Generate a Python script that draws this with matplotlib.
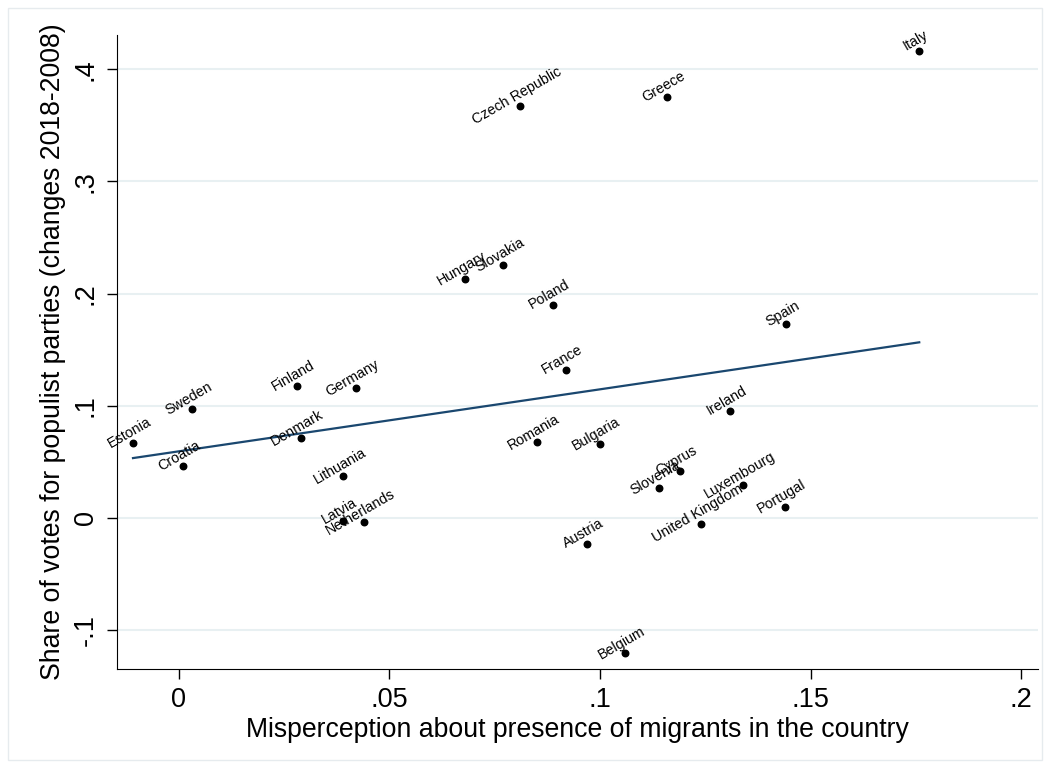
import numpy as np
import matplotlib.pyplot as plt
from matplotlib.patches import Rectangle

plt.rcParams['font.family'] = ['Liberation Sans', 'DejaVu Sans']

countries = ['Estonia', 'Sweden', 'Croatia', 'Finland', 'Germany', 'Denmark',
             'Lithuania', 'Latvia', 'Netherlands', 'Hungary', 'Slovakia', 'Poland',
             'France', 'Czech Republic', 'Greece', 'Italy', 'Spain', 'Ireland',
             'Romania', 'Bulgaria', 'Cyprus', 'Slovenia', 'Luxembourg', 'Portugal',
             'United Kingdom', 'Austria', 'Belgium']
misperception = [-0.0109, 0.0031, 0.0010, 0.0280, 0.0420, 0.0290,
                 0.0390, 0.0390, 0.0439, 0.0679, 0.0770, 0.0888,
                 0.0919, 0.0810, 0.1159, 0.1758, 0.1442, 0.1309,
                 0.0850, 0.1000, 0.1190, 0.1140, 0.1340, 0.1439,
                 0.1240, 0.0969, 0.1059]
populist_change = [0.0668, 0.0971, 0.0463, 0.1176, 0.1159, 0.0713,
                   0.0374, -0.0027, -0.0036, 0.2130, 0.2255, 0.1898,
                   0.1319, 0.3672, 0.3752, 0.4162, 0.1729, 0.0954,
                   0.0677, 0.0660, 0.0419, 0.0267, 0.0294, 0.0098,
                   -0.0053, -0.0232, -0.1203]

x_ticks = [0, 0.05, 0.1, 0.15, 0.2]
x_ticklabels = ['0', '.05', '.1', '.15', '.2']
y_ticks = [-0.1, 0, 0.1, 0.2, 0.3, 0.4]
y_ticklabels = ['-.1', '0', '.1', '.2', '.3', '.4']

x = np.array(misperception)
y = np.array(populist_change)

fig = plt.figure(figsize=(10.5, 7.69), dpi=100)
ax = fig.add_axes([117/1050, 100/769, 921/1050, 634/769])

# light frame round the whole graph
fig.patches.append(Rectangle((8/1050, 9/769), 1034/1050, 752/769,
                             transform=fig.transFigure, fill=False,
                             edgecolor='#e6ebee', linewidth=1))

for yt in y_ticks:
    ax.axhline(yt, color='#e8f0f2', linewidth=1.5, zorder=0)

# linear fit
b, a = np.polyfit(x, y, 1)
xs = np.array([x.min(), x.max()])
ax.plot(xs, a + b * xs, color='#1a476f', linewidth=1.6, zorder=2)

ax.scatter(x, y, s=22, color='black', zorder=3)
for name, xi, yi in zip(countries, x, y):
    ax.annotate(name, (xi, yi), xytext=(0, 3), textcoords='offset points',
                ha='center', va='bottom', rotation=30, rotation_mode='anchor',
                fontsize=10.3, zorder=4)

ax.set_xlim(-0.0147, 0.2040)
ax.set_ylim(-0.1346, 0.4305)
ax.set_xticks(x_ticks)
ax.set_xticklabels(x_ticklabels, fontsize=19.5)
ax.set_yticks(y_ticks)
ax.set_yticklabels(y_ticklabels, fontsize=19.5, rotation=90, va='center')
ax.tick_params(direction='out', length=7, width=1, pad=6)
ax.set_xlabel('Misperception about presence of migrants in the country',
              fontsize=19.2, labelpad=3)
ax.set_ylabel('Share of votes for populist parties (changes 2018-2008)',
              fontsize=19.2, labelpad=5)
for side in ['top', 'right']:
    ax.spines[side].set_visible(False)

fig.savefig('out.png', dpi=100)
